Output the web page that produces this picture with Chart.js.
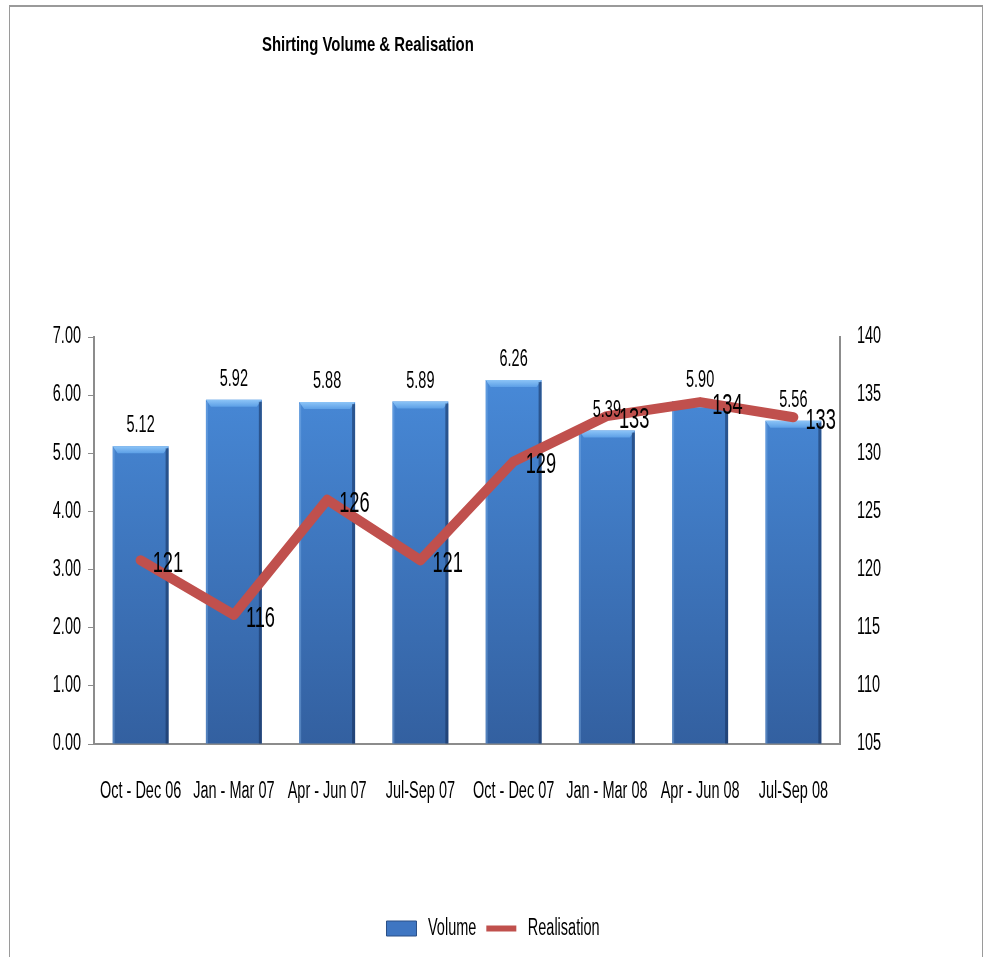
<!DOCTYPE html>
<html lang="en">
<head>
    <meta charset="UTF-8">
    <title>Shirting Volume & Realisation</title>
    <script src="https://cdn.jsdelivr.net/npm/chart.js"></script>
    <style>
        body {
            margin: 0;
            background-color: #ffffff;
        }
        .frame {
            position: absolute;
            left: 9px;
            top: 5px;
            width: 972px;
            height: 1000px;
            border-top: 2px solid #9a9a9a;
            border-left: 1px solid #9a9a9a;
            border-right: 1px solid #9a9a9a;
        }
        .chart-container {
            position: absolute;
            left: 0;
            top: 0;
            width: 986px;
            height: 957px;
        }
    </style>
</head>
<body>
    <div class="frame"></div>
    <div class="chart-container">
        <canvas id="shirtingChart"></canvas>
    </div>

    <script>
        const quarters = ['Oct - Dec 06', 'Jan - Mar 07', 'Apr - Jun 07', 'Jul-Sep 07',
                          'Oct - Dec 07', 'Jan - Mar 08', 'Apr - Jun 08', 'Jul-Sep 08'];
        const volume = [5.12, 5.92, 5.88, 5.89, 6.26, 5.39, 5.90, 5.56];
        const realisation = [120.8, 116.1, 126.0, 120.8, 129.3, 133.2, 134.4, 133.1];
        const volumeTicks = { min: 0, max: 7, step: 1 };
        const realisationTicks = { min: 105, max: 140, step: 5 };

        const fontFamily = "'Liberation Sans', Arial, sans-serif";
        const TEXT_SX = 0.63; // pas de police étroite installée : on compresse le texte

        const ctx = document.getElementById('shirtingChart').getContext('2d');

        // texte compressé horizontalement (façon Arial Narrow)
        const rawFill = ctx.fillText;
        ctx.fillText = function (text, x, y) {
            const sx = this.textSX || TEXT_SX;
            this.save();
            this.translate(x, y);
            this.scale(sx, 1);
            rawFill.call(this, text, 0, 0);
            this.restore();
        };
        const rawMeasure = ctx.measureText;
        ctx.measureText = function (text) {
            const m = rawMeasure.call(this, text);
            return {
                width: m.width * (this.textSX || TEXT_SX),
                actualBoundingBoxAscent: m.actualBoundingBoxAscent,
                actualBoundingBoxDescent: m.actualBoundingBoxDescent
            };
        };

        // titre en haut à gauche, comme dans l'original
        const titlePlugin = {
            id: 'leftTitle',
            afterDraw(chart) {
                const c = chart.ctx;
                c.save();
                c.textSX = 0.71;
                c.font = 'bold 21px ' + fontFamily;
                c.fillStyle = '#000';
                c.textAlign = 'left';
                c.textBaseline = 'middle';
                c.fillText('Shirting Volume & Realisation', 262, 45);
                c.textSX = null;
                c.restore();
            }
        };

        // petit relief sur les barres
        const bevelPlugin = {
            id: 'bevel',
            afterDatasetDraw(chart, args) {
                if (args.index !== 0) return;
                const c = chart.ctx;
                args.meta.data.forEach(bar => {
                    const { x, y, width, base } = bar.getProps(['x', 'y', 'width', 'base'], true);
                    const l = x - width / 2, r = x + width / 2;
                    c.save();
                    const g = c.createLinearGradient(0, y, 0, y + 7);
                    g.addColorStop(0, '#8cc4f7');
                    g.addColorStop(1, '#5c9fe6');
                    c.fillStyle = g;
                    c.beginPath();
                    c.moveTo(l, y);
                    c.lineTo(r, y);
                    c.lineTo(r - 5, y + 7);
                    c.lineTo(l + 5, y + 7);
                    c.closePath();
                    c.fill();
                    c.fillStyle = 'rgba(20, 45, 90, 0.55)';
                    c.fillRect(r - 3, y + 2, 3, base - y - 2);
                    c.fillStyle = 'rgba(140, 190, 240, 0.35)';
                    c.fillRect(l, y + 2, 2, base - y - 2);
                    c.restore();
                });
            }
        };

        // étiquettes de valeurs
        const labelPlugin = {
            id: 'valueLabels',
            afterDatasetsDraw(chart) {
                const c = chart.ctx;
                c.save();
                c.fillStyle = '#000';
                const barMeta = chart.getDatasetMeta(0);
                c.font = '23px ' + fontFamily;
                c.textAlign = 'center';
                c.textBaseline = 'alphabetic';
                barMeta.data.forEach((bar, i) => {
                    c.fillText(volume[i].toFixed(2), bar.x, bar.y - 14);
                });
                const lineMeta = chart.getDatasetMeta(1);
                c.font = '29px ' + fontFamily;
                c.textAlign = 'left';
                c.textBaseline = 'middle';
                lineMeta.data.forEach((pt, i) => {
                    c.fillText(realisation[i].toFixed(0), pt.x + 12, pt.y + 4);
                });
                c.restore();
            }
        };

        function barGradient(context) {
            const area = context.chart.chartArea;
            if (!area) return '#3f7ccc';
            const g = context.chart.ctx.createLinearGradient(0, area.top, 0, area.bottom);
            g.addColorStop(0, '#4a8ede');
            g.addColorStop(1, '#3360a0');
            return g;
        }

        new Chart(ctx, {
            type: 'bar',
            data: {
                labels: quarters,
                datasets: [
                    {
                        label: 'Volume',
                        data: volume,
                        yAxisID: 'y',
                        backgroundColor: barGradient,
                        borderWidth: 0,
                        barPercentage: 0.6,
                        categoryPercentage: 1.0,
                        order: 1
                    },
                    {
                        type: 'line',
                        label: 'Realisation',
                        data: realisation,
                        yAxisID: 'y1',
                        borderColor: '#c0504d',
                        backgroundColor: '#c0504d',
                        borderWidth: 10,
                        borderCapStyle: 'round',
                        borderJoinStyle: 'round',
                        pointRadius: 0,
                        tension: 0,
                        order: 0
                    }
                ]
            },
            options: {
                responsive: true,
                maintainAspectRatio: false,
                animation: false,
                layout: {
                    padding: { top: 337, left: 0, right: 0, bottom: 7 }
                },
                plugins: {
                    title: { display: false },
                    tooltip: { enabled: false },
                    legend: {
                        position: 'bottom',
                        labels: {
                            usePointStyle: true,
                            pointStyleWidth: 30,
                            boxHeight: 15,
                            padding: 10,
                            color: '#000',
                            font: { family: fontFamily, size: 23 },
                            sort: (a, b) => a.datasetIndex - b.datasetIndex,
                            generateLabels(chart) {
                                const items = Chart.defaults.plugins.legend.labels.generateLabels(chart);
                                items.forEach(it => {
                                    if (it.datasetIndex === 1) {
                                        it.pointStyle = 'line';
                                        it.lineWidth = 6;
                                        it.strokeStyle = '#c0504d';
                                    } else {
                                        it.pointStyle = 'rect';
                                        it.lineWidth = 1;
                                        it.strokeStyle = '#2b4f86';
                                        it.fillStyle = '#3f76c2';
                                    }
                                });
                                return items;
                            }
                        }
                    }
                },
                scales: {
                    x: {
                        grid: { display: false, drawTicks: false },
                        border: { display: true, color: '#8c8c8c', width: 2 },
                        ticks: {
                            color: '#000',
                            padding: 34,
                            maxRotation: 0,
                            autoSkip: false,
                            font: { family: fontFamily, size: 23 }
                        },
                        afterFit(scale) { scale.height = 163; }
                    },
                    y: {
                        position: 'left',
                        min: volumeTicks.min,
                        max: volumeTicks.max,
                        grid: {
                            drawOnChartArea: false,
                            drawTicks: true,
                            tickLength: 6,
                            color: '#8c8c8c'
                        },
                        border: { display: true, color: '#8c8c8c', width: 2 },
                        ticks: {
                            stepSize: volumeTicks.step,
                            color: '#000',
                            padding: 7,
                            font: { family: fontFamily, size: 23 },
                            callback: v => v.toFixed(2)
                        },
                        afterFit(scale) { scale.width = 94; }
                    },
                    y1: {
                        position: 'right',
                        min: realisationTicks.min,
                        max: realisationTicks.max,
                        grid: { display: false, drawTicks: false },
                        border: { display: true, color: '#8c8c8c', width: 2 },
                        ticks: {
                            stepSize: realisationTicks.step,
                            color: '#000',
                            padding: 17,
                            font: { family: fontFamily, size: 23 }
                        },
                        afterFit(scale) { scale.width = 146; }
                    }
                }
            },
            plugins: [titlePlugin, bevelPlugin, labelPlugin]
        });
    </script>
</body>
</html>
